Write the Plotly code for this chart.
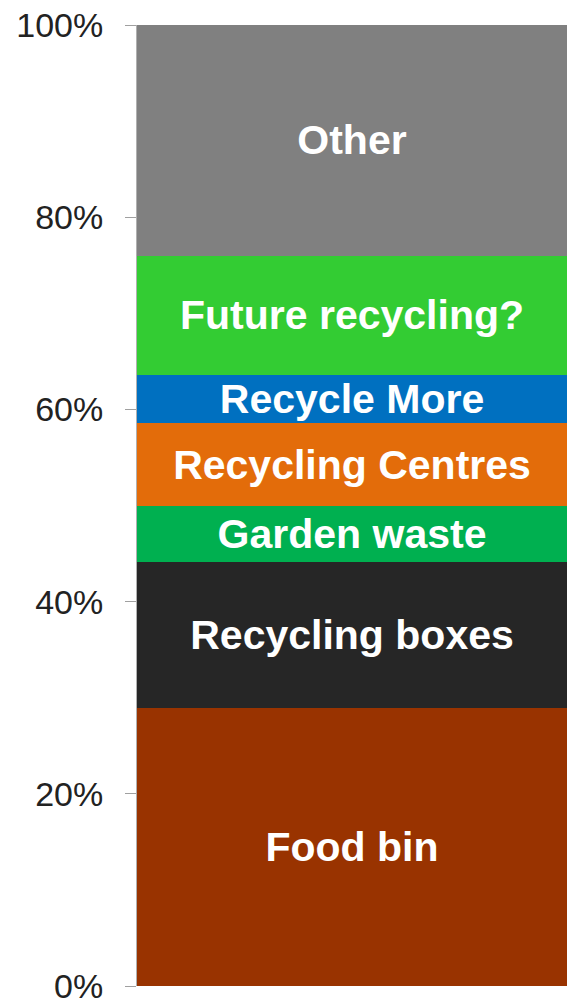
import plotly.graph_objects as go

# stacked share of material, bottom to top
categories = ["Food bin", "Recycling boxes", "Garden waste", "Recycling Centres",
              "Recycle More", "Future recycling?", "Other"]
shares = [28.9, 15.2, 5.8, 8.7, 5.0, 12.4, 24.0]
colors = ["#993300", "#262626", "#00B050", "#E36C0A", "#0070C0", "#33CC33", "#808080"]
tick_vals = [0, 20, 40, 60, 80, 100]
tick_text = ["0%", "20%", "40%", "60%", "80%", "100%"]

fig = go.Figure()
for name, val, col in zip(categories, shares, colors):
    fig.add_trace(go.Bar(
        x=[0], y=[val], name=name, width=1,
        marker=dict(color=col, line=dict(width=0)),
        text=[name], textposition="inside", insidetextanchor="middle",
        textangle=0, constraintext="none",
        textfont=dict(family="Liberation Sans", size=41, color="white", weight="bold"),
        hoverinfo="skip",
    ))

fig.update_layout(
    barmode="stack",
    width=567, height=1005,
    margin=dict(l=137, r=0, t=25, b=16),
    plot_bgcolor="white", paper_bgcolor="white",
    showlegend=False,
    uniformtext=dict(minsize=41, mode="show"),
)
fig.update_xaxes(range=[-0.5, 0.5], visible=False, fixedrange=True)
fig.update_yaxes(
    range=[0, 100], tickmode="array", tickvals=tick_vals, ticktext=tick_text,
    showgrid=False, zeroline=False,
    showline=True, linecolor="#b0b0b0", linewidth=1,
    ticks="outside", ticklen=11, tickcolor="#a0a0a0",
    ticklabelstandoff=15, ticklabeloverflow="allow",
    tickfont=dict(family="Liberation Sans", size=34, color="#222222"),
    fixedrange=True,
)

fig.write_html("out.html", config={"displayModeBar": False, "staticPlot": True},
               post_script="document.body.style.margin='0';")
